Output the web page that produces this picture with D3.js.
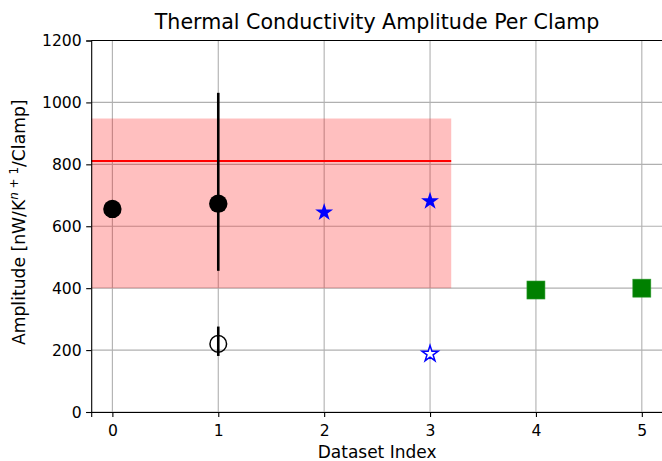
<!DOCTYPE html>
<html>
<head>
<meta charset="utf-8">
<script src="https://cdn.jsdelivr.net/npm/d3@7"></script>
<style>
  body { margin: 0; background: #fff; }
  text { font-family: "DejaVu Sans", sans-serif; }
</style>
</head>
<body>
<div id="chart"></div>
<script>
// data
const xTicks = [0, 1, 2, 3, 4, 5];
const yTicks = [0, 200, 400, 600, 800, 1000, 1200];

const circleX = [0, 1];
const circleY = [656, 673];
const circleErrX = [1];
const circleErrLo = [456];
const circleErrHi = [1031];

const openCircleX = [1];
const openCircleY = [220];
const openCircleErrLo = [181];
const openCircleErrHi = [276];

const starX = [2, 3];
const starY = [645, 681];

const openStarX = [3];
const openStarY = [191];

const squareX = [4, 5];
const squareY = [394, 400];

const meanValue = [811];
const bandRange = [400, 948];
const bandX = [-0.2, 3.2];

const W = 662, H = 461;
const margin = { left: 91.2, top: 40.5, right: -1, bottom: 49 };

const svg = d3.select("#chart")
    .append("svg")
    .attr("width", W)
    .attr("height", H);

const x = d3.scaleLinear().domain([-0.2, 5.2]).range([margin.left, W - margin.right]);
const y = d3.scaleLinear().domain([0, 1200]).range([H - margin.bottom, margin.top]);

// grid
const grid = svg.append("g");
grid.selectAll(".gx")
    .data(xTicks)
    .enter()
    .append("line")
    .attr("x1", d => x(d)).attr("x2", d => x(d))
    .attr("y1", y(0)).attr("y2", y(1200))
    .attr("stroke", "#b0b0b0").attr("stroke-width", 1.1);
grid.selectAll(".gy")
    .data(yTicks)
    .enter()
    .append("line")
    .attr("x1", x(-0.2)).attr("x2", x(5.2))
    .attr("y1", d => y(d)).attr("y2", d => y(d))
    .attr("stroke", "#b0b0b0").attr("stroke-width", 1.1);

// shaded band + mean line
svg.append("rect")
    .attr("x", x(bandX[0]))
    .attr("width", x(bandX[1]) - x(bandX[0]))
    .attr("y", y(bandRange[1]))
    .attr("height", y(bandRange[0]) - y(bandRange[1]))
    .attr("fill", "red")
    .attr("fill-opacity", 0.25);

svg.selectAll(".mean")
    .data(meanValue)
    .enter()
    .append("line")
    .attr("x1", x(bandX[0])).attr("x2", x(bandX[1]))
    .attr("y1", d => y(d)).attr("y2", d => y(d))
    .attr("stroke", "red").attr("stroke-width", 2.1);

// error bars
svg.selectAll(".err")
    .data(circleErrX.map((d, i) => ({ x: d, lo: circleErrLo[i], hi: circleErrHi[i] })))
    .enter()
    .append("line")
    .attr("x1", d => x(d.x)).attr("x2", d => x(d.x))
    .attr("y1", d => y(d.lo)).attr("y2", d => y(d.hi))
    .attr("stroke", "black").attr("stroke-width", 2.6);

svg.selectAll(".err2")
    .data(openCircleX.map((d, i) => ({ x: d, lo: openCircleErrLo[i], hi: openCircleErrHi[i] })))
    .enter()
    .append("line")
    .attr("x1", d => x(d.x)).attr("x2", d => x(d.x))
    .attr("y1", d => y(d.lo)).attr("y2", d => y(d.hi))
    .attr("stroke", "black").attr("stroke-width", 2.6);

// markers
svg.selectAll(".dot")
    .data(circleX.map((d, i) => [d, circleY[i]]))
    .enter()
    .append("circle")
    .attr("cx", d => x(d[0])).attr("cy", d => y(d[1]))
    .attr("r", 9.2)
    .attr("fill", "black");

svg.selectAll(".odot")
    .data(openCircleX.map((d, i) => [d, openCircleY[i]]))
    .enter()
    .append("circle")
    .attr("cx", d => x(d[0])).attr("cy", d => y(d[1]))
    .attr("r", 8.3)
    .attr("fill", "none")
    .attr("stroke", "black")
    .attr("stroke-width", 1.5);

const star = d3.symbol().type(d3.symbolStar).size(100);
svg.selectAll(".star")
    .data(starX.map((d, i) => [d, starY[i]]))
    .enter()
    .append("path")
    .attr("d", star)
    .attr("transform", d => `translate(${x(d[0])},${y(d[1])})`)
    .attr("fill", "blue");

const openStar = d3.symbol().type(d3.symbolStar).size(80);
svg.selectAll(".ostar")
    .data(openStarX.map((d, i) => [d, openStarY[i]]))
    .enter()
    .append("path")
    .attr("d", openStar)
    .attr("transform", d => `translate(${x(d[0])},${y(d[1]) + 1})`)
    .attr("fill", "white")
    .attr("stroke", "blue")
    .attr("stroke-width", 1.5);

svg.selectAll(".sq")
    .data(squareX.map((d, i) => [d, squareY[i]]))
    .enter()
    .append("rect")
    .attr("x", d => x(d[0]) - 9)
    .attr("y", d => y(d[1]) - 9)
    .attr("width", 18).attr("height", 18)
    .attr("fill", "green")
    .attr("stroke", "#2e9a2e")
    .attr("stroke-width", 0.6);

// axes
const xAxis = svg.append("g")
    .attr("transform", `translate(0,${y(0)})`)
    .call(d3.axisBottom(x).tickValues(xTicks).tickSize(5).tickPadding(7.5).tickFormat(d3.format("d")));
const yAxis = svg.append("g")
    .attr("transform", `translate(${x(-0.2)},0)`)
    .call(d3.axisLeft(y).tickValues(yTicks).tickSize(5).tickPadding(4.5).tickFormat(d3.format("d")));

[xAxis, yAxis].forEach(a => {
    a.select(".domain").attr("stroke", "black").attr("stroke-width", 1.1);
    a.selectAll(".tick line").attr("stroke", "black").attr("stroke-width", 1.1);
    a.selectAll(".tick text")
        .attr("fill", "black")
        .style("font-family", "DejaVu Sans")
        .style("font-size", "15.6px");
});

// top spine
svg.append("line")
    .attr("x1", x(-0.2)).attr("x2", x(5.2))
    .attr("y1", y(1200)).attr("y2", y(1200))
    .attr("stroke", "black").attr("stroke-width", 1.1);

// title and labels
svg.append("text")
    .attr("x", (x(-0.2) + x(5.2)) / 2)
    .attr("y", 29)
    .attr("text-anchor", "middle")
    .style("font-size", "20.6px")
    .text("Thermal Conductivity Amplitude Per Clamp");

svg.append("text")
    .attr("x", (x(-0.2) + x(5.2)) / 2)
    .attr("y", 457.5)
    .attr("text-anchor", "middle")
    .style("font-size", "17px")
    .text("Dataset Index");

const yl = svg.append("text")
    .attr("transform", `translate(24.5,${(y(0) + y(1200)) / 2 - 4}) rotate(-90)`)
    .attr("text-anchor", "middle")
    .style("font-size", "17.2px");
yl.append("tspan").text("Amplitude [nW/K");
yl.append("tspan").attr("dy", -7).style("font-size", "12px").style("font-style", "italic").text("n");
yl.append("tspan").style("font-size", "12px").text(" + 1");
yl.append("tspan").attr("dy", 7).text("/Clamp]");
</script>
</body>
</html>
